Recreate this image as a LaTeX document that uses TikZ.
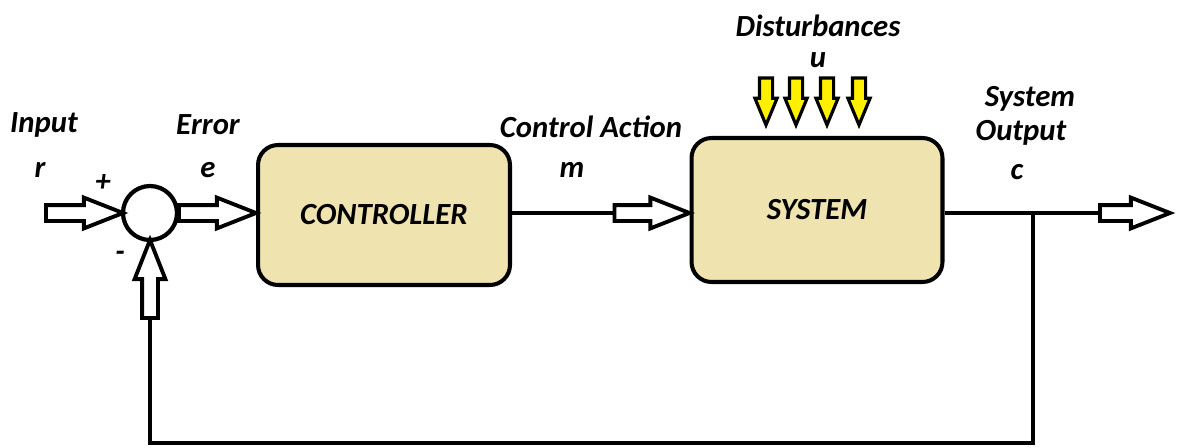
\documentclass[tikz,border=0pt]{standalone}
\usepackage{fontspec}
\setmainfont{Carlito}
\usetikzlibrary{shapes.arrows}
\definecolor{boxbeige}{RGB}{239,227,176}
\definecolor{distyellow}{RGB}{255,240,0}

\tikzset{
  blockbox/.style={draw, line width=2.3pt, fill=boxbeige, rounded corners=0.4cm,
    font=\bfseries\itshape\fontsize{17.5}{20}\selectfont},
  lbl/.style={font=\bfseries\itshape\fontsize{17.5}{20}\selectfont, inner sep=0pt},
  hollow/.style={single arrow, draw, line width=2.2pt, fill=white, inner sep=0.12cm,
    outer sep=0pt, single arrow head extend=0.15cm, single arrow tip angle=43},
  dist/.style={single arrow, draw, line width=1.8pt, fill=distyellow, inner sep=0.1cm,
    outer sep=0pt, single arrow head extend=0.09cm, single arrow tip angle=45,
    shape border rotate=270, minimum height=0.94cm, anchor=tip},
}

\begin{document}
\begin{tikzpicture}[x=0.02cm, y=-0.02cm, line width=2.2pt]
  \useasboundingbox (0,0) rectangle (1183,447);
  % blocks
  \node[blockbox, minimum width=5.04cm, minimum height=2.8cm] (ctrl) at (384,215) {CONTROLLER};
  \node[blockbox, minimum width=5.02cm, minimum height=2.88cm] (sys) at (817,210) {SYSTEM};
  \node[circle, draw, line width=2.4pt, minimum size=1.08cm, inner sep=0pt, outer sep=0pt] (sum) at (150,213) {};
  % hollow arrows
  \node[hollow, minimum height=1.54cm, anchor=tip] (inarr) at (sum.west) {};
  \node[hollow, minimum height=1.54cm, anchor=tip] (errarr) at (ctrl.west |- sum) {};
  \node[hollow, minimum height=1.5cm, anchor=tip] (actarr) at (sys.west |- sum) {};
  \coordinate (outtail) at (1100,213);
  \node[hollow, minimum height=1.4cm, anchor=tail] (outarr) at (outtail) {};
  \node[hollow, minimum height=1.56cm, shape border rotate=90, anchor=tip] (fbarr) at (sum.south) {};
  % lines
  \draw (ctrl.east |- sum) -- (actarr.tail);
  \draw (sys.east |- sum) -- (outarr.tail);
  \coordinate (tap) at (1033,213);
  \coordinate (fbcorner) at (1033,443);
  \draw (tap) -- (fbcorner) -| (fbarr.tail);
  % disturbances
  \foreach \dx [count=\i] in {766,796,827,859}
    \node[dist] (d\i) at (\dx,125) {};
  % labels
  \node[lbl] (inlbl) at (44,125) {Input};
  \node[lbl] (rlbl) at (40,170) {r};
  \node[lbl] (plus) at (103,183) {+};
  \node[lbl] (minus) at (120,256) {-};
  \node[lbl] (errlbl) at (208,125) {Error};
  \node[lbl] (elbl) at (208,170) {e};
  \node[lbl] (actlbl) at (591,127) {Control Action};
  \node[lbl] (mlbl) at (572,170) {m};
  \node[lbl] (distlbl) at (818,26) {Disturbances};
  \node[lbl] (ulbl) at (818,60) {u};
  \node[lbl] (syslbl) at (1030,99) {System};
  \node[lbl] (outlbl) at (1021,133) {Output};
  \node[lbl] (clbl) at (1017,172) {c};
\end{tikzpicture}
\end{document}
